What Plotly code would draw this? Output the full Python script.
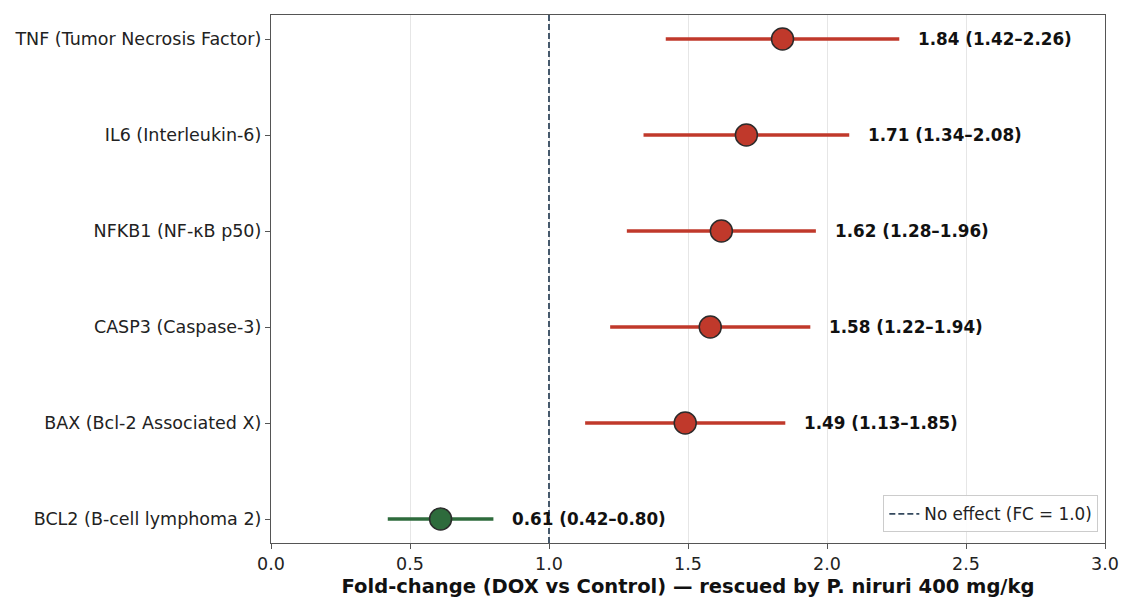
import plotly.graph_objects as go

genes = ["BCL2 (B-cell lymphoma 2)", "BAX (Bcl-2 Associated X)", "CASP3 (Caspase-3)",
         "NFKB1 (NF-κB p50)", "IL6 (Interleukin-6)", "TNF (Tumor Necrosis Factor)"]
fc = [0.61, 1.49, 1.58, 1.62, 1.71, 1.84]
lo = [0.42, 1.13, 1.22, 1.28, 1.34, 1.42]
hi = [0.80, 1.85, 1.94, 1.96, 2.08, 2.26]
x_ticks = [0.0, 0.5, 1.0, 1.5, 2.0, 2.5, 3.0]

RED = "#c0392b"
GREEN = "#2e6b3c"
FONT = "DejaVu Sans"

fig = go.Figure()
ypos = list(range(len(genes)))

for i, g in enumerate(genes):
    col = GREEN if fc[i] < 1 else RED
    fig.add_trace(go.Scatter(
        x=[fc[i]], y=[ypos[i]], mode="markers", showlegend=False,
        marker=dict(size=22, color=col, line=dict(color="#2b2b2b", width=1.5)),
        error_x=dict(type="data", symmetric=False, array=[hi[i] - fc[i]],
                     arrayminus=[fc[i] - lo[i]], color=col, thickness=3.6, width=0),
    ))
    fig.add_annotation(
        x=hi[i], y=ypos[i], text=f"<b>{fc[i]:.2f} ({lo[i]:.2f}–{hi[i]:.2f})</b>",
        xanchor="left", yanchor="middle", xshift=17, showarrow=False,
        font=dict(family=FONT, size=16.8, color="#111111"),
    )

fig.add_trace(go.Scatter(
    x=[1, 1], y=[-0.25, 5.25], mode="lines", name="No effect (FC = 1.0)",
    line=dict(color="#34495e", width=1.8, dash="6px,3px"),
))

fig.update_layout(
    width=1121, height=599,
    margin=dict(l=271, r=16, t=15, b=56, autoexpand=False),
    plot_bgcolor="white", paper_bgcolor="white",
    font=dict(family=FONT, size=17.5, color="#222222"),
    showlegend=True,
    legend=dict(x=0.992, y=0.02, xanchor="right", yanchor="bottom",
                bgcolor="rgba(255,255,255,0.9)", bordercolor="#cccccc", borderwidth=1,
                font=dict(family=FONT, size=16.8, color="#222222")),
    xaxis=dict(range=[0, 3], tickvals=x_ticks, ticktext=[f"{v:.1f}" for v in x_ticks],
               automargin=False,
               showgrid=True, gridcolor="#e6e6e6", gridwidth=1, zeroline=False,
               showline=True, linecolor="#555555", linewidth=1.3, mirror=True,
               ticks="outside", ticklen=5, tickcolor="#555555",
               tickfont=dict(family=FONT, size=17.5, color="#222222"),
               title=dict(text="<b>Fold-change (DOX vs Control) — rescued by P. niruri 400 mg/kg</b>",
                          font=dict(family=FONT, size=19.5, color="#111111"), standoff=6)),
    yaxis=dict(range=[-0.25, 5.25], tickvals=ypos, ticktext=genes,
               automargin=False,
               showgrid=False, zeroline=False,
               showline=True, linecolor="#555555", linewidth=1.3, mirror=True,
               ticks="outside", ticklen=5, tickcolor="#555555",
               tickfont=dict(family=FONT, size=17.5, color="#222222")),
)

fig.write_html("out.html", config={"displayModeBar": False},
               post_script="document.body.style.margin='0';document.body.style.overflow='hidden';")
